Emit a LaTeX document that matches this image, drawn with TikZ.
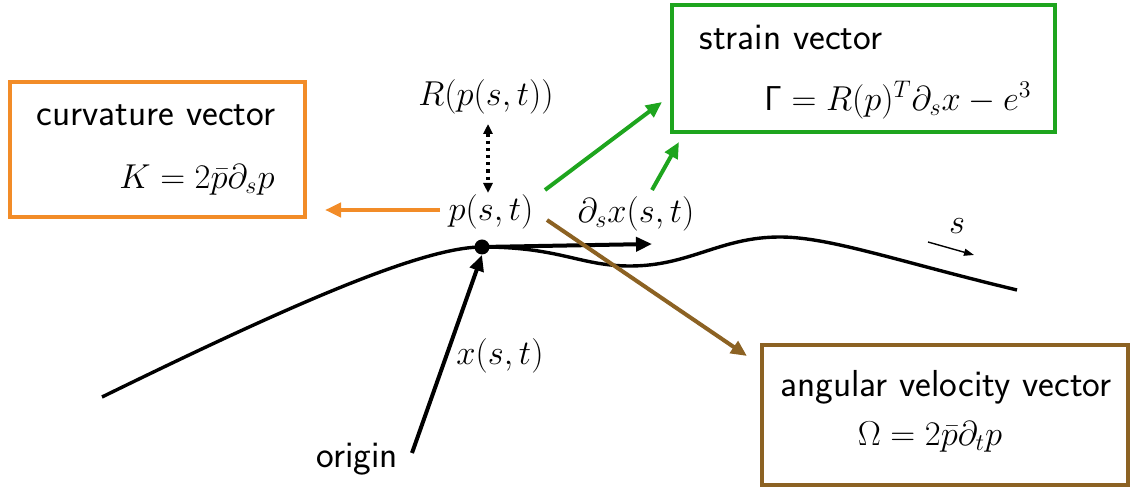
\documentclass[tikz,border=0pt]{standalone}
\usetikzlibrary{arrows.meta}
\definecolor{korange}{RGB}{242,140,40}
\definecolor{kgreen}{RGB}{30,165,30}
\definecolor{kbrown}{RGB}{140,98,35}
\begin{document}
\begin{tikzpicture}[x=0.5pt,y=-0.5pt,
  every node/.style={font=\fontsize{17}{20}\selectfont, inner sep=0pt},
  boxstyle/.style={draw, line width=2pt, minimum width=#1},
  lbl/.style={font=\fontsize{18.8}{22}\selectfont\sffamily},
  arr/.style={line width=2pt, -{Triangle[length=8pt,width=7pt]}},
  thin arr/.style={line width=0.7pt, -{Triangle[length=5pt,width=3.5pt]}},
  dotarr/.style={line width=1.6pt, dotted, {Triangle[length=5pt,width=4.5pt]}-{Triangle[length=5pt,width=4.5pt]}},
  curve/.style={line width=1.7pt}]
\useasboundingbox (0,0) rectangle (1131,491);
% boxes
\node[boxstyle=147.5pt, draw=korange, minimum height=67.5pt] (kbox) at (157.5,149.5) {};
\node[boxstyle=191.5pt, draw=kgreen, minimum height=63.5pt] (gbox) at (863.5,68.5) {};
\node[boxstyle=183pt, draw=kbrown, minimum height=70pt] (obox) at (945,415) {};
% box texts
\node[lbl] (ktitle) at (156,115) {curvature vector};
\node (kform) at (197,180) {$K=2\bar p\partial_s p$};
\node[lbl] (gtitle) at (791,37) {strain vector};
\node (gform) at (898,100) {$\mathsf{\Gamma}=R(p)^T\partial_s x-e^3$};
\node[lbl] (otitle) at (946,387) {angular velocity vector};
\node[font=\fontsize{18.5}{22}\selectfont] (oform) at (930,437) {$\Omega=2\bar p\partial_t p$};
% curve
\draw[curve] (102,397) .. controls (280,310) and (420,247) .. (482,247)
  .. controls (560,247) and (580,266) .. (630,266)
  .. controls (690,266) and (720,237) .. (780,237)
  .. controls (830,237) and (900,262) .. (1017,290);
% labels
\node (R) at (486,97) {$R(p(s,t))$};
\node (p) at (491,212) {$p(s,t)$};
\node (dsx) at (636,214) {$\partial_s x(s,t)$};
\node (xst) at (500,356) {$x(s,t)$};
\node[lbl] (origin) at (357,459) {origin};
\node (s) at (957,226) {$s$};
% dot
\node[circle, fill, minimum size=7.5pt] (dot) at (482,247) {};
% coordinates
\coordinate (ostart) at (412,453);
\coordinate (dxend) at (652,244);
\coordinate (kend) at (325,210);
\coordinate (kstart) at (440,210);
\coordinate (g1s) at (545,190);
\coordinate (g1e) at (662,102);
\coordinate (g2s) at (652,190);
\coordinate (g2e) at (679,142);
\coordinate (bs) at (547,220);
\coordinate (be) at (747,356);
\coordinate (rtop) at (488,124);
\coordinate (rbot) at (488,193);
\coordinate (ss) at (928,242);
\coordinate (se) at (974,255);
% arrows
\draw[arr] (ostart) -- (dot.south);
\draw[arr] (dot.center) -- (dxend);
\draw[arr, korange] (kstart) -- (kend);
\draw[arr, kgreen] (g1s) -- (g1e);
\draw[arr, kgreen] (g2s) -- (g2e);
\draw[arr, kbrown] (bs) -- (be);
\draw[dotarr] (rtop) -- (rbot);
\draw[thin arr] (ss) -- (se);
\end{tikzpicture}
\end{document}
